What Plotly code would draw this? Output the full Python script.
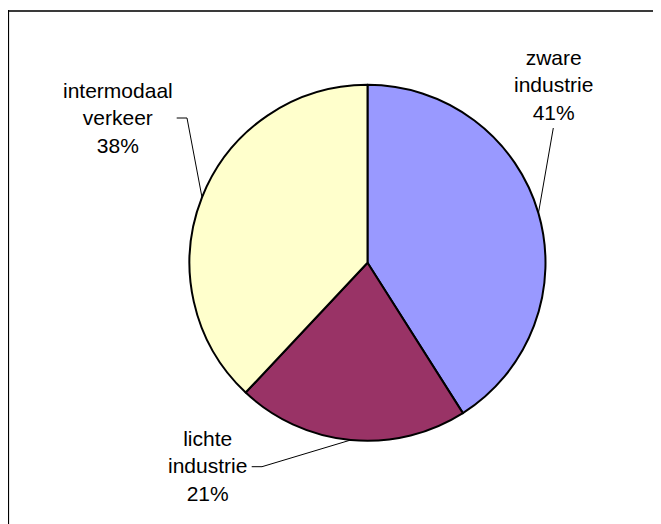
import math
import plotly.graph_objects as go

labels = ["zware industrie", "lichte industrie", "intermodaal verkeer"]
label_lines = ["zware<br>industrie", "lichte<br>industrie", "intermodaal<br>verkeer"]
values = [41, 21, 38]
colors = ["#9999FF", "#993366", "#FFFFCC"]

# page has an 8px body margin; figure fills the rest of the window
OFF = 8
W, H = 661 - OFF, 524 - OFF
CX, CY, R = 367.5, 262.8, 178.0


def px(x):
    return (x - OFF) / W


def py(y):
    return 1 - (y - OFF) / H


fig = go.Figure()
fig.add_trace(go.Pie(
    labels=labels,
    values=values,
    sort=False,
    direction="clockwise",
    rotation=0,
    marker=dict(colors=colors, line=dict(color="black", width=2)),
    textinfo="none",
    hoverinfo="label+percent",
    showlegend=False,
    domain=dict(x=[px(CX - R), px(CX + R)], y=[py(CY + R), py(CY - R)]),
))

# label anchor positions (pixels): text centre, leader elbow points
label_pos = [
    dict(tx=553.5, ty=84.5, elbow=[(553.3, 128)]),
    dict(tx=208.0, ty=466.0, elbow=[(251.7, 466.7), (262.0, 466.7)]),
    dict(tx=117.7, ty=118.0, elbow=[(176.7, 118.0), (187.0, 118.0)]),
]

total = sum(values)
cum = 0
shapes = []
annotations = []
for v, lines, pos in zip(values, label_lines, label_pos):
    mid = (cum + v / 2) / total * 2 * math.pi
    cum += v
    ex = CX + R * math.sin(mid)
    ey = CY - R * math.cos(mid)
    pct = round(v / total * 100)
    annotations.append(dict(
        x=px(pos["tx"]), y=py(pos["ty"]), xref="paper", yref="paper",
        text=f"{lines}<br>{pct}%", showarrow=False,
        xanchor="center", yanchor="middle", align="center",
        font=dict(family="Liberation Sans, Arial, sans-serif", size=21, color="black"),
    ))
    pts = pos["elbow"] + [(ex, ey)]
    for (x0, y0), (x1, y1) in zip(pts[:-1], pts[1:]):
        shapes.append(dict(type="line", xref="paper", yref="paper",
                           x0=px(x0), y0=py(y0), x1=px(x1), y1=py(y1),
                           line=dict(color="black", width=1)))

# chart-area border (top and left visible)
shapes.append(dict(type="line", xref="paper", yref="paper",
                   x0=px(8), y0=py(11), x1=px(661), y1=py(11),
                   line=dict(color="#3a3a3a", width=2)))
shapes.append(dict(type="line", xref="paper", yref="paper",
                   x0=px(8.5), y0=py(10), x1=px(8.5), y1=py(524),
                   line=dict(color="black", width=1.2)))

fig.update_layout(
    width=W, height=H,
    margin=dict(l=0, r=0, t=0, b=0),
    paper_bgcolor="white",
    plot_bgcolor="white",
    shapes=shapes,
    annotations=annotations,
)

fig.write_html("out.html")
